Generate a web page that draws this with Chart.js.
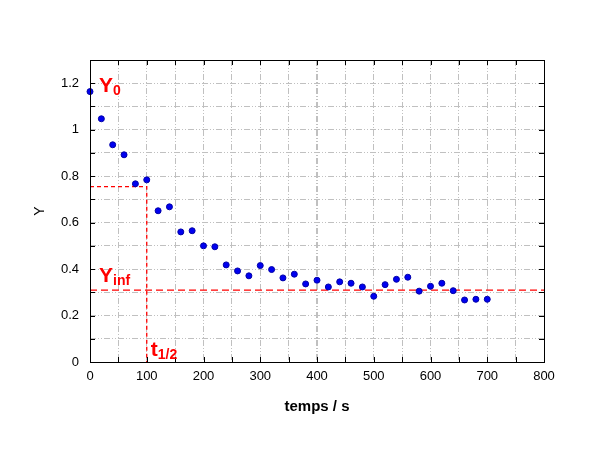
<!DOCTYPE html>
<html>
<head>
<meta charset="utf-8">
<script src="https://cdn.jsdelivr.net/npm/chart.js@4.4.1/dist/chart.umd.min.js"></script>
<style>
    html, body { margin: 0; padding: 0; background: #fff; }
    #wrap { width: 605px; height: 453px; }
</style>
</head>
<body>
<div id="wrap"><canvas id="decay-chart"></canvas></div>
<script>
// measured points
var times = [0, 20, 40, 60, 80, 100, 120, 140, 160, 180, 200, 220, 240, 260, 280, 300, 320, 340,
             360, 380, 400, 420, 440, 460, 480, 500, 520, 540, 560, 580, 600, 620, 640, 660, 680, 700];
var yValues = [1.164, 1.047, 0.935, 0.892, 0.767, 0.784, 0.651, 0.668, 0.560, 0.565, 0.500, 0.496,
               0.418, 0.392, 0.371, 0.415, 0.398, 0.362, 0.378, 0.336, 0.352, 0.323, 0.345, 0.339,
               0.323, 0.283, 0.333, 0.356, 0.365, 0.305, 0.326, 0.339, 0.307, 0.267, 0.270, 0.270];

// reference levels
var yInf = 0.309;
var tHalf = 100;
var yHalf = 0.755;
var xRange = [0, 800];
var yRange = [0, 1.3];

// red labels: main text, subscript, anchor x, anchor y (baseline)
var annotations = [
    { main: 'Y', sub: '0', x: 16, y: 1.164 },
    { main: 'Y', sub: 'inf', x: 16, y: 0.345 },
    { main: 't', sub: '1/2', x: 107, y: 0.026 }
];

var FONT = '"Liberation Sans", Arial, sans-serif';
var gridDash = [6, 2, 1, 2, 1, 2];

var points = times.map(function(t, i) { return { x: t, y: yValues[i] }; });

/**
 * Frame, inward ticks and red labels
 */
var framePlugin = {
    id: 'frame',
    afterDatasetsDraw: function(chart) {
        var ctx = chart.ctx;
        var area = chart.chartArea;
        var xs = chart.scales.x;
        var ys = chart.scales.y;
        ctx.save();
        ctx.strokeStyle = '#000';
        ctx.lineWidth = 1;
        ctx.strokeRect(Math.round(area.left) + 0.5, Math.round(area.top) + 0.5,
            Math.round(area.right - area.left), Math.round(area.bottom - area.top));

        ctx.beginPath();
        var v, p;
        for (v = xRange[0]; v <= xRange[1]; v += 50) {
            p = Math.round(xs.getPixelForValue(v)) + 0.5;
            ctx.moveTo(p, area.bottom); ctx.lineTo(p, area.bottom - 5);
            ctx.moveTo(p, area.top); ctx.lineTo(p, area.top + 5);
        }
        for (var k = 0; k <= 13; k++) {
            p = Math.round(ys.getPixelForValue(k / 10)) + 0.5;
            ctx.moveTo(area.left, p); ctx.lineTo(area.left + 5, p);
            ctx.moveTo(area.right, p); ctx.lineTo(area.right - 5, p);
        }
        ctx.stroke();

        ctx.fillStyle = '#ff0000';
        ctx.textBaseline = 'alphabetic';
        annotations.forEach(function(a) {
            var px = xs.getPixelForValue(a.x);
            var py = ys.getPixelForValue(a.y);
            ctx.font = 'bold 21px ' + FONT;
            ctx.fillText(a.main, px, py);
            var w = ctx.measureText(a.main).width;
            ctx.font = 'bold 14px ' + FONT;
            ctx.fillText(a.sub, px + w, py + 3);
        });
        ctx.restore();
    }
};

new Chart(document.getElementById('decay-chart'), {
    type: 'scatter',
    data: {
        datasets: [{
            label: 'Y',
            data: points,
            backgroundColor: '#0000f0',
            borderColor: '#0000a8',
            borderWidth: 1,
            pointRadius: 3,
            clip: false,
            order: 0
        }, {
            label: 'Yinf',
            data: [{ x: xRange[0], y: yInf }, { x: xRange[1], y: yInf }],
            showLine: true,
            borderColor: '#ff0000',
            borderWidth: 1.3,
            borderDash: [7, 4],
            pointRadius: 0,
            order: 1
        }, {
            label: 't1/2',
            data: [{ x: xRange[0], y: yHalf }, { x: tHalf, y: yHalf }, { x: tHalf, y: 0 }],
            showLine: true,
            borderColor: '#ff0000',
            borderWidth: 1.3,
            borderDash: [4, 3],
            pointRadius: 0,
            order: 1
        }]
    },
    options: {
        responsive: true,
        maintainAspectRatio: false,
        animation: false,
        layout: {
            padding: { left: 32, top: 60, right: 61, bottom: 37 }
        },
        plugins: {
            legend: { display: false },
            tooltip: { enabled: false }
        },
        scales: {
            x: {
                type: 'linear',
                min: xRange[0],
                max: xRange[1],
                afterFit: function(scale) { scale.height = 54; },
                ticks: {
                    stepSize: 50,
                    padding: 7,
                    color: '#000',
                    maxRotation: 0,
                    autoSkip: false,
                    font: { family: FONT, size: 13 },
                    callback: function(value) {
                        return value % 100 === 0 ? String(value) : '';
                    }
                },
                grid: {
                    color: '#c0c0c0',
                    lineWidth: function(c) { return c.tick && c.tick.value === 400 ? 2 : 1; },
                    drawTicks: false
                },
                border: { display: false, dash: gridDash },
                title: {
                    display: true,
                    text: 'temps / s',
                    color: '#000',
                    padding: 0,
                    font: { family: FONT, size: 15, weight: 'bold' }
                }
            },
            y: {
                type: 'linear',
                min: yRange[0],
                max: yRange[1],
                afterFit: function(scale) { scale.width = 58; },
                ticks: {
                    stepSize: 0.1,
                    padding: 11,
                    color: '#000',
                    autoSkip: false,
                    font: { family: FONT, size: 13 },
                    callback: function(value) {
                        var n = Math.round(value * 10);
                        return n % 2 === 0 ? String(n / 10) : '';
                    }
                },
                grid: {
                    color: '#c0c0c0',
                    drawTicks: false
                },
                border: { display: false, dash: gridDash },
                title: {
                    display: true,
                    text: 'Y',
                    color: '#000',
                    padding: 0,
                    font: { family: FONT, size: 14 }
                }
            }
        }
    },
    plugins: [framePlugin]
});
</script>
</body>
</html>
